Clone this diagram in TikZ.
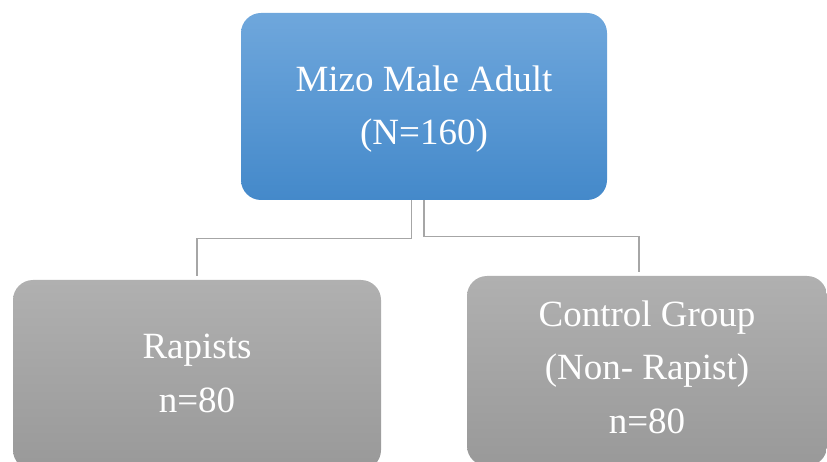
\documentclass[tikz,border=0pt]{standalone}
\usepackage{fontspec}
\setmainfont{Liberation Serif}
\usepackage{xcolor}
\definecolor{blueTop}{HTML}{6FA7DC}
\definecolor{blueBottom}{HTML}{4489CA}
\definecolor{grayTop}{HTML}{B0B0B0}
\definecolor{grayBottom}{HTML}{999999}
\colorlet{colorLink}{black!35}
\usepackage{tikz}
\usetikzlibrary{positioning}
\tikzset{
  groupbox/.style={rounded corners=20pt, inner sep=0pt, align=center, anchor=base,
    text=white, font=\fontsize{37}{53.5}\selectfont},
  rootbox/.style={groupbox, top color=blueTop, bottom color=blueBottom},
  leafbox/.style={groupbox, top color=grayTop, bottom color=grayBottom},
  link/.style={draw=colorLink, line width=1.3pt}
}

\begin{document}
\begin{tikzpicture}[x=1pt, y=-1pt]
\clip (0,0) rectangle (827,462);
\node[rootbox, minimum width=366pt, text height=132pt, text depth=55pt] (adult) at (424,145) {Mizo Male Adult\\(N=160)};
\node[leafbox, minimum width=368pt, text height=132pt, text depth=58pt] (rapists) at (197,412) {Rapists\\n=80};
\node[leafbox, minimum width=360pt, text height=157pt, text depth=33pt] (control) at (647,433) {Control Group\\(Non- Rapist)\\n=80};
\draw[link] ([xshift=-12.5pt]adult.south) -- ++(0,38) -| ([yshift=4pt]rapists.north);
\draw[link] (adult.south) -- ++(0,36) -| ([xshift=-8pt,yshift=4pt]control.north);
\end{tikzpicture}
\end{document}
